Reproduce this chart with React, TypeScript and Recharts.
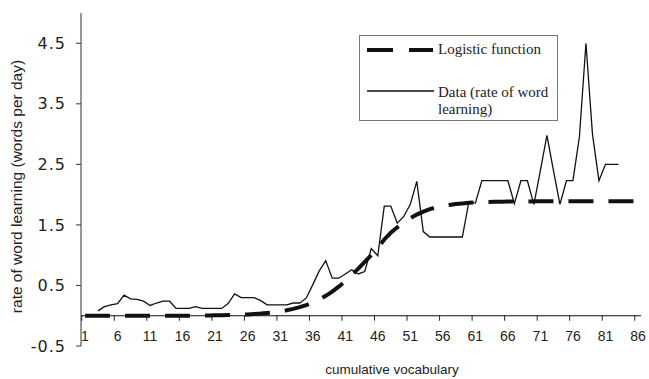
import React from 'react';
import { LineChart, Line, XAxis, YAxis, ReferenceLine, Legend } from 'recharts';

// ---- data ----
const categories: number[] = Array.from({ length: 86 }, (_, i) => i + 1);

const logisticValues: number[] = [
  0, 0, 0, 0, 0, 0, 0, 0, 0, 0,
  0, 0, 0, 0, 0, 0, 0, 0, 0, 0.005,
  0.006, 0.008, 0.011, 0.014, 0.017, 0.022, 0.028, 0.035, 0.045, 0.056,
  0.071, 0.09, 0.113, 0.141, 0.175, 0.217, 0.268, 0.328, 0.399, 0.479,
  0.57, 0.67, 0.777, 0.888, 1.0, 1.12, 1.26, 1.37, 1.46, 1.54,
  1.61, 1.67, 1.72, 1.76, 1.79, 1.81, 1.83, 1.845, 1.855, 1.865,
  1.87, 1.875, 1.88, 1.882, 1.884, 1.885, 1.886, 1.887, 1.888, 1.889,
  1.89, 1.89, 1.89, 1.89, 1.89, 1.89, 1.89, 1.89, 1.89, 1.89,
  1.89, 1.89, 1.89, 1.89, 1.89, 1.89,
];

const dataValues: (number | null)[] = [
  null, null, 0.08, 0.15, 0.18, 0.2, 0.34, 0.28, 0.27, 0.24,
  0.17, 0.21, 0.24, 0.24, 0.12, 0.12, 0.12, 0.15, 0.12, 0.12,
  0.12, 0.12, 0.2, 0.36, 0.3, 0.3, 0.3, 0.25, 0.18, 0.18,
  0.18, 0.18, 0.21, 0.21, 0.29, 0.51, 0.74, 0.91, 0.62, 0.62,
  0.69, 0.76, 0.69, 0.73, 1.11, 0.99, 1.81, 1.81, 1.53, 1.64,
  1.84, 2.22, 1.39, 1.3, 1.3, 1.3, 1.3, 1.3, 1.3, 1.88,
  1.86, 2.23, 2.23, 2.23, 2.23, 2.23, 1.85, 2.23, 2.23, 1.84,
  2.4, 2.98, 2.4, 1.84, 2.23, 2.23, 2.96, 4.5, 3.0, 2.23,
  2.5, 2.5, 2.5, null, null, null,
];

const yTicks: number[] = [-0.5, 0.5, 1.5, 2.5, 3.5, 4.5];
const yDomain: [number, number] = [-0.5, 5];

const chartData = categories.map((c, i) => ({
  x: c,
  logistic: logisticValues[i],
  data: dataValues[i],
}));

// ---- layout ----
const WIDTH = 649;
const HEIGHT = 379;
const MARGIN = { top: 13, right: 8, bottom: 0, left: 0 };
const YAXIS_W = 81;
const XAXIS_H = 33;
const PLOT_H = HEIGHT - MARGIN.top - MARGIN.bottom - XAXIS_H;
const PLOT_W = WIDTH - MARGIN.left - MARGIN.right - YAXIS_W;
const PAD_L = 4;
const PAD_R = 3;
const STEP = (PLOT_W - PAD_L - PAD_R) / (categories.length - 1);
const ZERO_OFFSET = (PLOT_H * (0 - yDomain[0])) / (yDomain[1] - yDomain[0]);

const TEXT = '#222';

const XTick = (props: any) => {
  const { x, y, payload } = props;
  const zeroY = y - ZERO_OFFSET;
  const tx = x - STEP / 2;
  return (
    <g>
      <line x1={tx} x2={tx} y1={zeroY} y2={zeroY + 5} stroke={TEXT} strokeWidth={1} />
      <text
        x={x}
        y={zeroY + 25}
        textAnchor="middle"
        fontFamily="'Liberation Sans', Arial, sans-serif"
        fontSize={14}
        fill={TEXT}
      >
        {payload.value}
      </text>
    </g>
  );
};

const renderYTitle = (props: any) => {
  const vb = props.viewBox || { x: 0, y: MARGIN.top, width: YAXIS_W, height: PLOT_H };
  const cx = vb.x + 16;
  const cy = vb.y + vb.height / 2 + 7;
  return (
    <text
      x={cx}
      y={cy}
      transform={`rotate(-90, ${cx}, ${cy})`}
      textAnchor="middle"
      dominantBaseline="central"
      fontFamily="'Liberation Sans', Arial, sans-serif"
      fontSize={15.5}
      fill={TEXT}
    >
      rate of word learning (words per day)
    </text>
  );
};

const renderXTitle = (props: any) => {
  const vb = props.viewBox || { x: YAXIS_W, y: MARGIN.top + PLOT_H, width: PLOT_W, height: XAXIS_H };
  return (
    <text
      x={vb.x + vb.width / 2 + 31}
      y={vb.y + 28}
      textAnchor="middle"
      fontFamily="'Liberation Sans', Arial, sans-serif"
      fontSize={13.5}
      fill={TEXT}
    >
      cumulative vocabulary
    </text>
  );
};

const renderLegend = () => (
  <svg width={199} height={86} style={{ display: 'block' }}>
    <rect x={0.5} y={0.5} width={198} height={85} fill="#fff" stroke="#777" strokeWidth={1} />
    <line x1={8} x2={74} y1={15} y2={15} stroke="#111" strokeWidth={4} strokeDasharray="26 16" />
    <text x={79} y={19} fontFamily="'Liberation Serif', 'Times New Roman', serif" fontSize={15} fill={TEXT}>
      Logistic function
    </text>
    <line x1={8} x2={75} y1={56} y2={56} stroke="#111" strokeWidth={1.3} />
    <text x={79} y={62} fontFamily="'Liberation Serif', 'Times New Roman', serif" fontSize={15} fill={TEXT}>
      Data (rate of word
    </text>
    <text x={79} y={78.5} fontFamily="'Liberation Serif', 'Times New Roman', serif" fontSize={15} fill={TEXT}>
      learning)
    </text>
  </svg>
);

export default function App() {
  return (
    <div style={{ position: 'absolute', left: 0, top: 0, background: '#fff' }}>
      <LineChart width={WIDTH} height={HEIGHT} data={chartData} margin={MARGIN}>
        <XAxis
          dataKey="x"
          type="category"
          interval={4}
          axisLine={false}
          tickLine={false}
          tickSize={0}
          tickMargin={0}
          height={XAXIS_H}
          padding={{ left: PAD_L, right: PAD_R }}
          tick={<XTick />}
          label={renderXTitle}
        />
        <YAxis
          type="number"
          domain={yDomain}
          ticks={yTicks}
          width={YAXIS_W}
          axisLine={{ stroke: '#333', strokeWidth: 1 }}
          tickLine={{ stroke: '#333', strokeWidth: 1 }}
          tickSize={5}
          tickMargin={10}
          tick={{ fontFamily: "'DejaVu Sans', sans-serif", fontSize: 16, fill: TEXT, letterSpacing: 1 }}
          label={renderYTitle}
        />
        <ReferenceLine y={0} stroke="#111" strokeWidth={1.2} />
        <Line
          dataKey="logistic"
          type="linear"
          stroke="#111"
          strokeWidth={4}
          strokeDasharray="25 15"
          dot={false}
          activeDot={false}
          isAnimationActive={false}
        />
        <Line
          dataKey="data"
          type="linear"
          stroke="#111"
          strokeWidth={1.3}
          dot={false}
          activeDot={false}
          connectNulls={false}
          isAnimationActive={false}
        />
        <Legend
          layout="vertical"
          align="center"
          verticalAlign="middle"
          wrapperStyle={{ left: 359, top: 35, width: 199, height: 86 }}
          content={renderLegend}
        />
      </LineChart>
    </div>
  );
}
